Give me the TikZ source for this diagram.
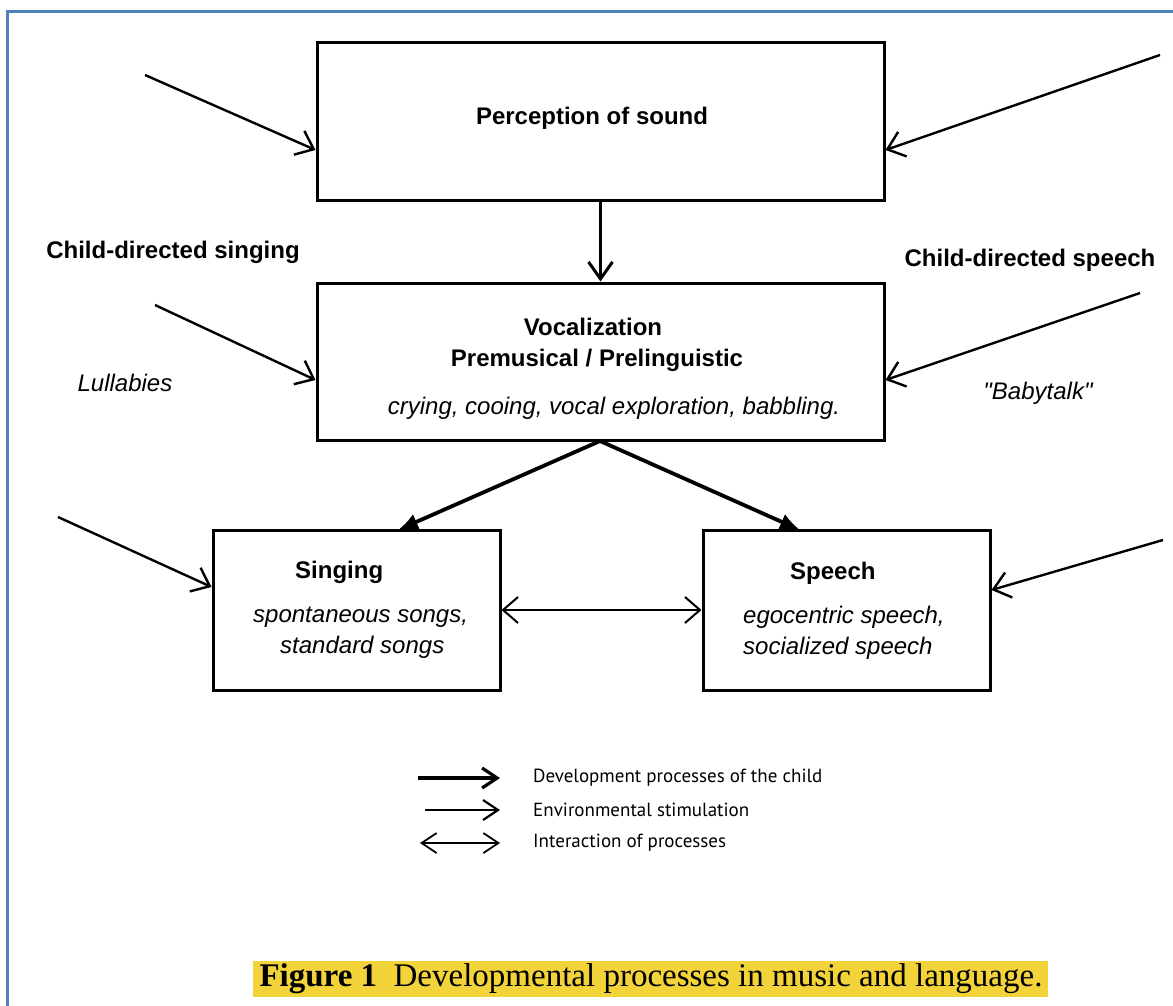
\documentclass[tikz,border=0pt]{standalone}
\usepackage{fontspec}
\setmainfont{Liberation Serif}
\setsansfont{Liberation Sans}
\newfontfamily\legendfont{PT Sans}
\newfontfamily\quotesans{Liberation Sans}[Ligatures=TeXOff]
\usetikzlibrary{arrows.meta}
\definecolor{frameblue}{RGB}{79,129,189}
\definecolor{hiyellow}{RGB}{242,212,58}
\tikzset{
  procbox/.style={draw, line width=3pt, inner sep=0pt},
  envarrow/.style={line width=2.4pt, -{Straight Barb[length=16pt,width=26pt,line width=2.4pt]}},
  devarrow/.style={line width=3.8pt, -{Latex[length=20pt,width=17pt]}},
  devvarrow/.style={line width=3pt, -{Straight Barb[length=17pt,width=24pt,line width=3pt]}},
  interarrow/.style={line width=2pt, {Straight Barb[length=15pt,width=26pt,line width=2pt]}-{Straight Barb[length=15pt,width=26pt,line width=2pt]}},
  boldlbl/.style={font=\sffamily\bfseries\fontsize{24}{28}\selectfont, inner sep=0pt},
  itlbl/.style={font=\sffamily\itshape\fontsize{24}{28}\selectfont, inner sep=0pt},
  legtxt/.style={font=\legendfont\fontsize{19}{22}\selectfont, anchor=west, inner sep=0pt},
}
\begin{document}
\begin{tikzpicture}[x=1pt,y=-1pt]
\useasboundingbox (0,0) rectangle (1173,1006);
\fill[white] (0,0) rectangle (1173,1006);
% frame
\draw[frameblue, line width=3pt] (7,1006) -- (7,12) -- (1173,12);

% boxes
\node[procbox, minimum width=567pt, minimum height=157pt] (perc) at (600.5,121.5) {};
\node[procbox, minimum width=567pt, minimum height=157pt] (voc) at (600.5,361.5) {};
\node[procbox, minimum width=287pt, minimum height=160pt] (sing) at (356.5,610) {};
\node[procbox, minimum width=287pt, minimum height=160pt] (speech) at (846.5,610) {};

% box texts
\node[boldlbl] (tperc) at (592,118) {Perception of sound};
\node[boldlbl] (tvoc1) at (593,327) {Vocalization};
\node[boldlbl] (tvoc2) at (597,360) {Premusical / Prelinguistic};
\node[itlbl] (tvoc3) at (614,408) {crying, cooing, vocal exploration, babbling.};
\node[boldlbl, anchor=west] (tsing) at (295,572) {Singing};
\node[itlbl, anchor=west] (tsing1) at (253,617) {spontaneous songs,};
\node[itlbl, anchor=west] (tsing2) at (280,647) {standard songs};
\node[boldlbl, anchor=west] (tspeech) at (790,573) {Speech};
\node[itlbl, anchor=west] (tspeech1) at (743,617) {egocentric speech,};
\node[itlbl, anchor=west] (tspeech2) at (743,648) {socialized speech};

% outside labels
\node[boldlbl] (cds) at (173,252) {Child-directed singing};
\node[boldlbl] (cdsp) at (1030,260) {Child-directed speech};
\node[itlbl] (lull) at (125,383) {Lullabies};
\node[itlbl, font=\quotesans\itshape\fontsize{24}{28}\selectfont] (baby) at (1038,393) {"Babytalk"};

% development arrows
\draw[devvarrow] (perc.south) -- (voc.north);
\coordinate (vbot) at (600,441);
\coordinate (singtop) at (398,530);
\coordinate (speechtop) at (800,530);
\draw[devarrow] (vbot) -- (singtop);
\draw[devarrow] (vbot) -- (speechtop);
\draw[interarrow] (sing.east) -- (speech.west);

% environmental arrows
\coordinate (e1) at (145,75);
\coordinate (e2) at (155,305);
\coordinate (e3) at (58,517);
\coordinate (e4) at (1160,55);
\coordinate (e5) at (1140,293);
\coordinate (e6) at (1163,540);
\draw[envarrow] (e1) -- (perc.west |- 0,150);
\draw[envarrow] (e2) -- (voc.west |- 0,380);
\draw[envarrow] (e3) -- (sing.west |- 0,587);
\draw[envarrow] (e4) -- (perc.east |- 0,150);
\draw[envarrow] (e5) -- (voc.east |- 0,380);
\draw[envarrow] (e6) -- (speech.east |- 0,590);

% legend
\coordinate (l1a) at (418,778); \coordinate (l1b) at (500,778);
\coordinate (l2a) at (425,810); \coordinate (l2b) at (500,810);
\coordinate (l3a) at (420,843); \coordinate (l3b) at (500,843);
\draw[line width=3.2pt, -{Straight Barb[length=15pt,width=20pt,line width=3.2pt]}] (l1a) -- (l1b);
\draw[line width=2.2pt, -{Straight Barb[length=15pt,width=20pt,line width=2.2pt]}] (l2a) -- (l2b);
\draw[line width=1.8pt, {Straight Barb[length=15pt,width=20pt,line width=1.8pt]}-{Straight Barb[length=15pt,width=20pt,line width=1.8pt]}] (l3a) -- (l3b);
\node[legtxt] (lt1) at (533,778) {Development processes of the child};
\node[legtxt] (lt2) at (533,810) {Environmental stimulation};
\node[legtxt] (lt3) at (533,843) {Interaction of processes};

% caption
\fill[hiyellow] (253,961) rectangle (1048,997);
\node[font=\fontsize{33}{36}\selectfont, inner sep=0pt] (cap) at (651,979) {\textbf{Figure 1}\hspace{0.5em}Developmental processes in music and language.};
\end{tikzpicture}
\end{document}
